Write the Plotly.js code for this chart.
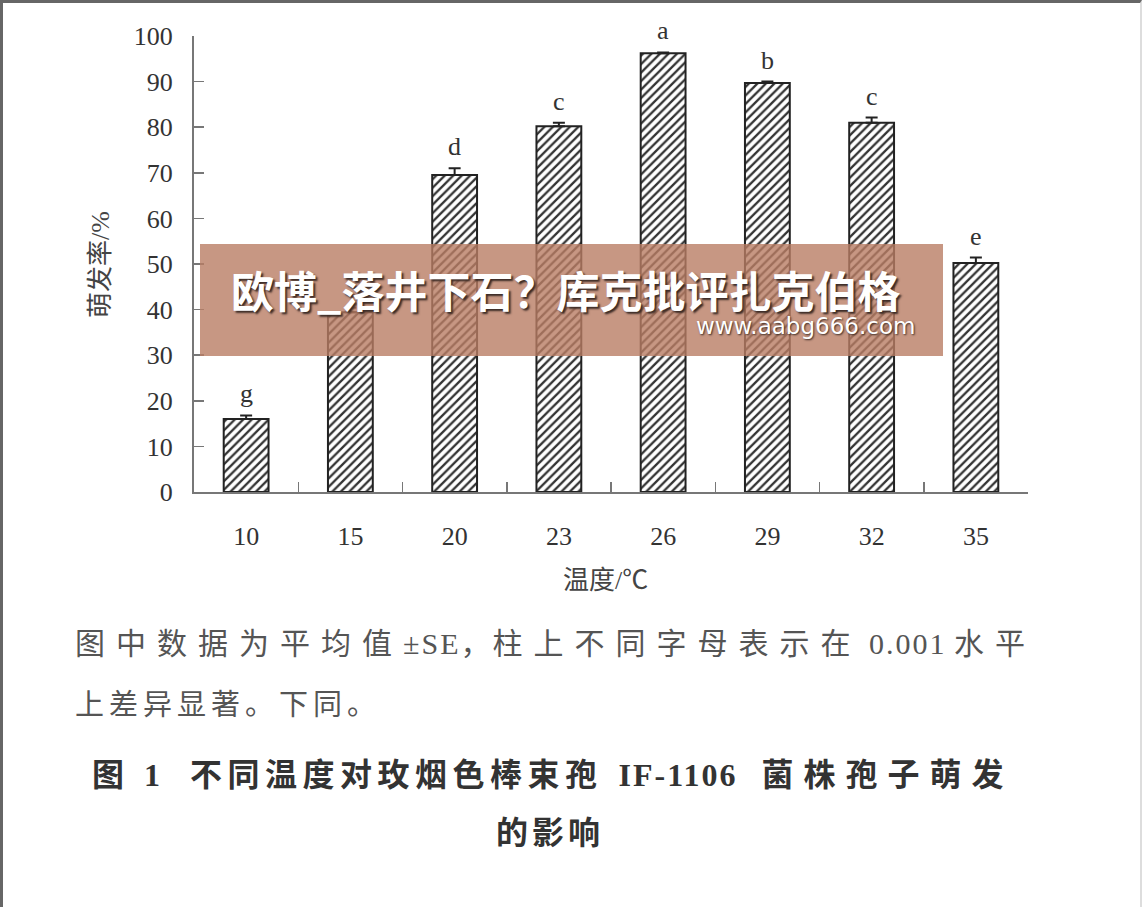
<!DOCTYPE html>
<html><head><meta charset="utf-8">
<script src="https://cdn.plot.ly/plotly-3.0.1.min.js"></script>
<style>
body{margin:0;background:#fff}
#wrap{position:relative;width:1142px;height:907px;overflow:hidden}
#frame{position:absolute;left:0;top:0;width:1142px;height:907px;box-sizing:border-box;border-left:3px solid #666;border-top:3px solid #666;border-right:2px solid #ddd;pointer-events:none}
</style>
</head><body>
<div id="wrap"><div id="chart" style="width:1142px;height:907px"></div><div id="frame"></div></div>
<script>
// ---- data ----
const temperatures = ['10', '15', '20', '23', '26', '29', '32', '35'];
const germinationRate = [16.0, 39.4, 69.5, 80.2, 96.2, 89.7, 81.0, 50.2];
const standardError = [0.8, 1.0, 1.5, 0.8, 0.2, 0.3, 1.1, 1.2];
const significanceLetters = ['g', '', 'd', 'c', 'a', 'b', 'c', 'e'];
const yTickValues = [0, 10, 20, 30, 40, 50, 60, 70, 80, 90, 100];

const xTitle = '温度/℃';
const yTitle = '萌发率/%';
const noteLine1Parts = ['图中数据为平均值', '±SE，', '柱上不同字母表示在', '0.001', '水平'];
const noteLine2 = '上差异显著。下同。';
const captionLine1Parts = ['图 1', '不同温度对玫烟色棒束孢', 'IF-1106', '菌株孢子萌发'];
const captionLine2 = '的影响';
const bannerText = '欧博_落井下石？库克批评扎克伯格';
const bannerUrl = 'www.aabg666.com';

// ---- layout helpers (pixel -> paper) ----
const W = 1142, H = 907;
const M = {l: 194, r: 114, t: 36, b: 415};
const PW = W - M.l - M.r, PH = H - M.t - M.b;
const px = x => (x - M.l) / PW;
const py = y => (H - M.b - y) / PH;

const SERIF = 'Liberation Serif, Noto Sans CJK SC, serif';
const CJK = 'Noto Sans CJK SC, sans-serif';
const sp = (s, n) => '<span style="letter-spacing:' + n + 'px">' + s + '</span>';
const NB = '&nbsp;';

const trace = {
  type: 'bar',
  x: temperatures,
  y: germinationRate,
  width: 0.43,
  marker: {
    color: '#ffffff',
    line: {color: '#222', width: 2},
    pattern: {shape: '/', size: 6, solidity: 0.38, fgcolor: '#333', bgcolor: '#ffffff'}
  },
  error_y: {
    type: 'data', symmetric: false,
    array: standardError,
    arrayminus: standardError.map(() => 0),
    color: '#222', thickness: 2, width: 6
  },
  hoverinfo: 'skip'
};

const annotations = [];
temperatures.forEach((t, i) => {
  if (!significanceLetters[i]) return;
  annotations.push({
    x: i, y: germinationRate[i] + standardError[i], xref: 'x', yref: 'y',
    text: significanceLetters[i], showarrow: false, yanchor: 'bottom', yshift: 5,
    font: {family: SERIF, size: 26, color: '#333'}
  });
});

// axis titles
annotations.push({
  x: px(605), y: py(580), xref: 'paper', yref: 'paper', text: xTitle, showarrow: false,
  xanchor: 'center', yanchor: 'middle', font: {family: SERIF, size: 26, color: '#444'}
});
annotations.push({
  x: px(100), y: py(265), xref: 'paper', yref: 'paper', text: yTitle, showarrow: false,
  textangle: -90, xanchor: 'center', yanchor: 'middle', font: {family: SERIF, size: 26, color: '#444'}
});

// notes and caption
annotations.push({
  x: px(73), y: py(643), xref: 'paper', yref: 'paper', showarrow: false, xanchor: 'left', yanchor: 'middle',
  text: sp(noteLine1Parts[0], 11) + sp(noteLine1Parts[1], 2) + sp(noteLine1Parts[2], 11) +
        NB + sp(noteLine1Parts[3], 2) + NB + sp(noteLine1Parts[4], 11),
  font: {family: SERIF, size: 30, color: '#555'}
});
annotations.push({
  x: px(73), y: py(705), xref: 'paper', yref: 'paper', showarrow: false, xanchor: 'left', yanchor: 'middle',
  text: sp(noteLine2, 5),
  font: {family: SERIF, size: 29, color: '#555'}
});
annotations.push({
  x: px(90), y: py(775), xref: 'paper', yref: 'paper', showarrow: false, xanchor: 'left', yanchor: 'middle',
  text: sp(captionLine1Parts[0], 6) + NB + NB + NB + sp(captionLine1Parts[1], 5.5) + NB + NB +
        sp(captionLine1Parts[2], 2) + NB + NB + NB + sp(captionLine1Parts[3], 10),
  font: {family: SERIF, size: 32, color: '#333', weight: 'bold'}
});
annotations.push({
  x: px(550), y: py(833), xref: 'paper', yref: 'paper', showarrow: false, xanchor: 'center', yanchor: 'middle',
  text: sp(captionLine2, 4),
  font: {family: SERIF, size: 32, color: '#333', weight: 'bold'}
});

// watermark banner text
annotations.push({
  x: px(565), y: py(289), xref: 'paper', yref: 'paper', showarrow: false, xanchor: 'center', yanchor: 'middle',
  text: bannerText,
  font: {family: CJK, size: 43, color: '#ffffff', weight: 'bold', shadow: '2px 2px 2px #3a2a25'}
});
annotations.push({
  x: px(917), y: py(326), xref: 'paper', yref: 'paper', showarrow: false, xanchor: 'right', yanchor: 'middle',
  text: bannerUrl,
  font: {family: 'DejaVu Sans, sans-serif', size: 23, color: '#ffffff', shadow: '1px 1px 2px #3a2a25'}
});

const layout = {
  width: W, height: H,
  margin: M,
  paper_bgcolor: '#ffffff', plot_bgcolor: '#ffffff',
  showlegend: false,
  xaxis: {
    type: 'category', range: [-0.5, 7.5],
    showline: true, linecolor: '#777', linewidth: 2,
    ticks: 'inside', tickson: 'boundaries', ticklen: 10, tickwidth: 1.5, tickcolor: '#777',
    ticklabelstandoff: 20,
    tickfont: {family: SERIF, size: 26, color: '#333'},
    showgrid: false, zeroline: false, fixedrange: true
  },
  yaxis: {
    range: [0, 100], tickvals: yTickValues,
    showline: true, linecolor: '#777', linewidth: 2,
    ticks: 'inside', ticklen: 10, tickwidth: 1.5, tickcolor: '#777',
    ticklabelstandoff: 14,
    tickfont: {family: SERIF, size: 26, color: '#333'},
    showgrid: false, zeroline: false, fixedrange: true
  },
  shapes: [{
    type: 'rect', xref: 'paper', yref: 'paper', layer: 'above',
    x0: px(200), x1: px(943), y0: py(356), y1: py(244),
    fillcolor: 'rgba(185,125,100,0.8)', line: {width: 0}
  }],
  annotations: annotations
};

Plotly.newPlot('chart', [trace], layout, {displayModeBar: false, staticPlot: true});
</script>
</body></html>
